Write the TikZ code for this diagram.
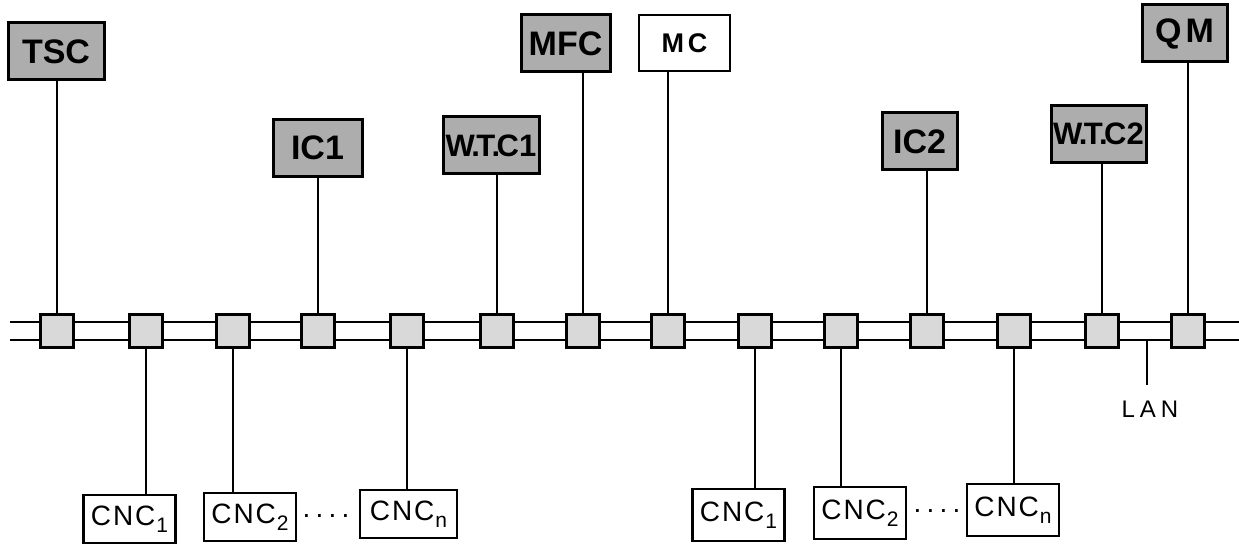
\documentclass[tikz,border=0pt]{standalone}
\usepackage{fontspec}
\setmainfont{Liberation Sans}
\usepackage{tikz}
\usetikzlibrary{positioning,calc}
\definecolor{shadecol}{gray}{0.68}
\definecolor{tapcol}  {gray}{0.85}
\newcommand{\tagfont}{\bfseries\fontsize{17}{17}\selectfont}
\newcommand{\wtcfont}{\bfseries\fontsize{15.5}{15.5}\selectfont}
\newcommand{\cncfont}{\fontsize{14}{14}\selectfont}
\newcommand{\cnclabel}[1]{C\kern1pt N\kern1pt C\kern0.5pt\raisebox{-3.5pt}{\fontsize{10.5}{10.5}\selectfont #1}}
\newcommand{\fourdots}{\raisebox{1pt}{.\kern2.6pt.\kern2.6pt.\kern2.6pt.}}

\begin{document}
\begin{tikzpicture}[
  x=0.5pt,y=-0.5pt,
  tagbox/.style={rectangle,draw,fill=shadecol,line width=1.5pt,
                 minimum width=46pt,minimum height=28.5pt,
                 inner sep=0pt,font=\tagfont},
  plainbox/.style={rectangle,draw,fill=white,line width=1.3pt,
                 minimum width=45.5pt,minimum height=28pt,
                 inner sep=0pt,font=\bfseries\fontsize{13.5}{13.5}\selectfont},
  tapbox/.style={rectangle,draw,fill=tapcol,line width=1.5pt,
                 minimum size=16.5pt,inner sep=0pt},
  cncbox/.style={rectangle,draw,fill=white,line width=1.2pt,
                 minimum width=46pt,minimum height=24pt,
                 inner sep=0pt,font=\cncfont},
  wire/.style={line width=1pt},
  busline/.style={line width=1.3pt}
]
\useasboundingbox (0,0) rectangle (1239,551);
% the LAN bus
\coordinate (busA1) at (10,322);
\coordinate (busB1) at (1239,322);
\coordinate (busA2) at (10,340);
\coordinate (busB2) at (1239,340);
\draw[busline] (busA1) -- (busB1);
\draw[busline] (busA2) -- (busB2);
% bus taps
\foreach \x [count=\i] in {57,146,233,318,407,497,583,668,755,841,927,1014,1102,1188}
  \node[tapbox] (t\i) at (\x,331) {};
% stations above the bus
\node[tagbox,minimum width=48pt] (tsc) at (56,51.5) {TSC};
\node[tagbox,minimum width=44.5pt] (ic1) at (317.5,148) {IC1};
\node[tagbox,minimum width=48pt,font=\wtcfont] (wtc1) at (491,145.5)
  {W\kern-1.8pt.\kern-1.8pt T\kern-1.8pt.\kern-1.8pt C1};
\node[tagbox,minimum width=44.5pt] (mfc) at (565.5,43.5) {MFC};
\node[plainbox] (mc) at (684.5,43) {M\kern2pt C};
\node[tagbox,minimum width=37.5pt] (ic2) at (919.5,141.5) {IC2};
\node[tagbox,minimum width=47.5pt,font=\wtcfont] (wtc2) at (1098.5,134)
  {W\kern-1.8pt.\kern-1.8pt T\kern-1.8pt.\kern-1.8pt C2};
\node[tagbox,minimum width=42.5pt] (qm) at (1184.5,33.5) {Q\kern2pt M};
% machines below the bus
\node[cncbox] (cncA) at (129.5,519) {\cnclabel{1}};
\node[cncbox] (cncB) at (250,517) {\cnclabel{2}};
\node[cncbox,minimum width=48.5pt] (cncC) at (408.5,514) {\cnclabel{n}};
\node[cncbox,minimum height=26pt] (cncD) at (738.5,515) {\cnclabel{1}};
\node[cncbox,minimum height=26pt] (cncE) at (860,513) {\cnclabel{2}};
\node[cncbox,minimum height=26pt] (cncF) at (1013,510) {\cnclabel{n}};
\node[font=\cncfont] (dotsL) at (326,517) {\fourdots};
\node[font=\cncfont] (dotsR) at (937,512) {\fourdots};
% connectors
\draw[wire] (t1.north) -- (t1.north |- tsc.south);
\draw[wire] (t4.north) -- (t4.north |- ic1.south);
\draw[wire] (t6.north) -- (t6.north |- wtc1.south);
\draw[wire] (t7.north) -- (t7.north |- mfc.south);
\draw[wire] (t8.north) -- (t8.north |- mc.south);
\draw[wire] (t11.north) -- (t11.north |- ic2.south);
\draw[wire] (t13.north) -- (t13.north |- wtc2.south);
\draw[wire] (t14.north) -- (t14.north |- qm.south);
\draw[wire] (t2.south) -- (t2.south |- cncA.north);
\draw[wire] (t3.south) -- (t3.south |- cncB.north);
\draw[wire] (t5.south) -- (t5.south |- cncC.north);
\draw[wire] (t9.south) -- (t9.south |- cncD.north);
\draw[wire] (t10.south) -- (t10.south |- cncE.north);
\draw[wire] (t12.south) -- (t12.south |- cncF.north);
% LAN label
\coordinate (lanjoin) at (1147,340);
\node[font=\fontsize{12}{12}\selectfont,anchor=north,inner sep=0pt]
  (lan) at (1150,401) {L\kern2.5pt A\kern2.5pt N};
\draw[wire] (lanjoin) -- (lanjoin |- 0,385);
\end{tikzpicture}
\end{document}
